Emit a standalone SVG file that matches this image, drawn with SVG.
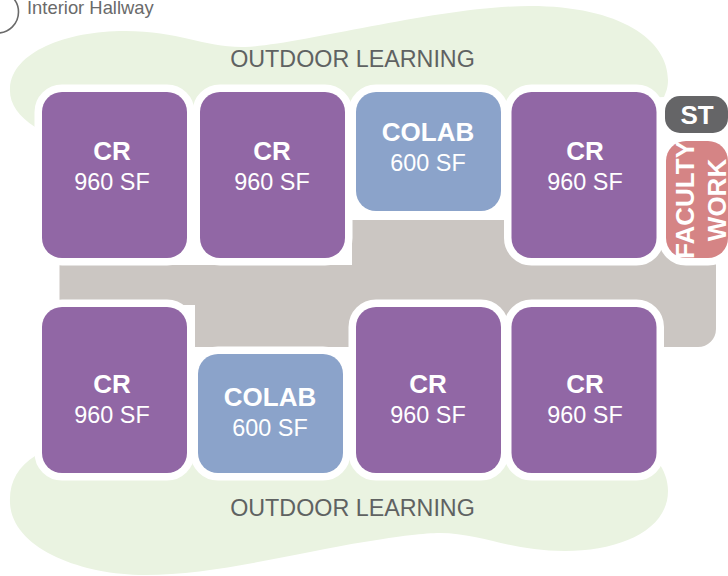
<svg xmlns="http://www.w3.org/2000/svg" width="728" height="576" viewBox="0 0 728 576">
<style>
text{font-family:"Liberation Sans",Arial,sans-serif;text-anchor:middle;fill:#fff}
.t{font-weight:700;font-size:26px}
.s{font-size:23.400px}
.o{font-size:23.300px;fill:#5f6262}
.r{stroke:#fff;stroke-width:15;paint-order:stroke}
.cr{fill:#9167a5}
.co{fill:#8ba3ca}
.g{fill:#eaf3e1}
</style>
<g id="legend">
<circle cx="-2.500" cy="12" r="21" fill="none" stroke="#6a6a6a" stroke-width="1.600"/>
<text x="27" y="14" style="text-anchor:start;fill:#6a6a6a;font-size:18.400px">Interior Hallway</text>
</g>
<g id="outdoor-top">
<path class="g" d="M35 127C18 116 9 103 10 88C12 52 66 31 125 31C180 31 205 48 245 47C300 45 440 6 530 6C620 6 668 40 668 80C668 88 666 92 664 97L35 127Z"/>
<text class="o" x="352.500" y="67">OUTDOOR LEARNING</text>
</g>
<g id="outdoor-bottom">
<path class="g" d="M35 456C18 467 9 482 10 503C12 548 80 575 145 575C215 575 300 552 364 542C400 536 425 533 440 533C480 533 510 551 565 551C620 551 668 530 668 491C668 480 664 470 658 462L35 440Z"/>
<text class="o" x="352.500" y="516">OUTDOOR LEARNING</text>
</g>
<g id="hallway">
<path d="M59.500 265H352V220H716V329A18 18 0 0 1 698 347H195V305H59.500Z" fill="#cbc6c2"/>
</g>
<g id="cr-1"><rect class="cr r" x="42" y="92" width="145" height="166" rx="20"/><text class="t" x="112" y="160">CR</text><text class="s" x="112" y="190">960 SF</text></g>
<g id="cr-2"><rect class="cr r" x="200" y="92" width="145" height="166" rx="20"/><text class="t" x="272" y="160">CR</text><text class="s" x="272" y="190">960 SF</text></g>
<g id="colab-1"><rect class="co r" x="356" y="92" width="145" height="119" rx="20"/><text class="t" x="428" y="141">COLAB</text><text class="s" x="428" y="171">600 SF</text></g>
<g id="cr-3"><rect class="cr r" x="511.500" y="92" width="145" height="166" rx="20"/><text class="t" x="585" y="160">CR</text><text class="s" x="585" y="190">960 SF</text></g>
<g id="st"><rect x="665" y="96" width="63" height="37" rx="15" fill="#656567"/><text class="t" x="697" y="124">ST</text></g>
<g id="faculty-work">
<rect class="r" x="666" y="141" width="62" height="117" rx="20" fill="#d58485"/>
<text class="t" transform="translate(694 200) rotate(-90)">FACULTY</text>
<text class="t" transform="translate(726 200) rotate(-90)">WORK</text>
</g>
<g id="cr-4"><rect class="cr r" x="42" y="307" width="145" height="166" rx="20"/><text class="t" x="112" y="393">CR</text><text class="s" x="112" y="423">960 SF</text></g>
<g id="colab-2"><rect class="co r" x="198" y="354" width="145" height="119" rx="20"/><text class="t" x="270" y="406">COLAB</text><text class="s" x="270" y="436">600 SF</text></g>
<g id="cr-5"><rect class="cr r" x="356" y="307" width="145" height="166" rx="20"/><text class="t" x="428" y="393">CR</text><text class="s" x="428" y="423">960 SF</text></g>
<g id="cr-6"><rect class="cr r" x="511.500" y="307" width="145" height="166" rx="20"/><text class="t" x="585" y="393">CR</text><text class="s" x="585" y="423">960 SF</text></g>
<g id="connectors"/>
</svg>
